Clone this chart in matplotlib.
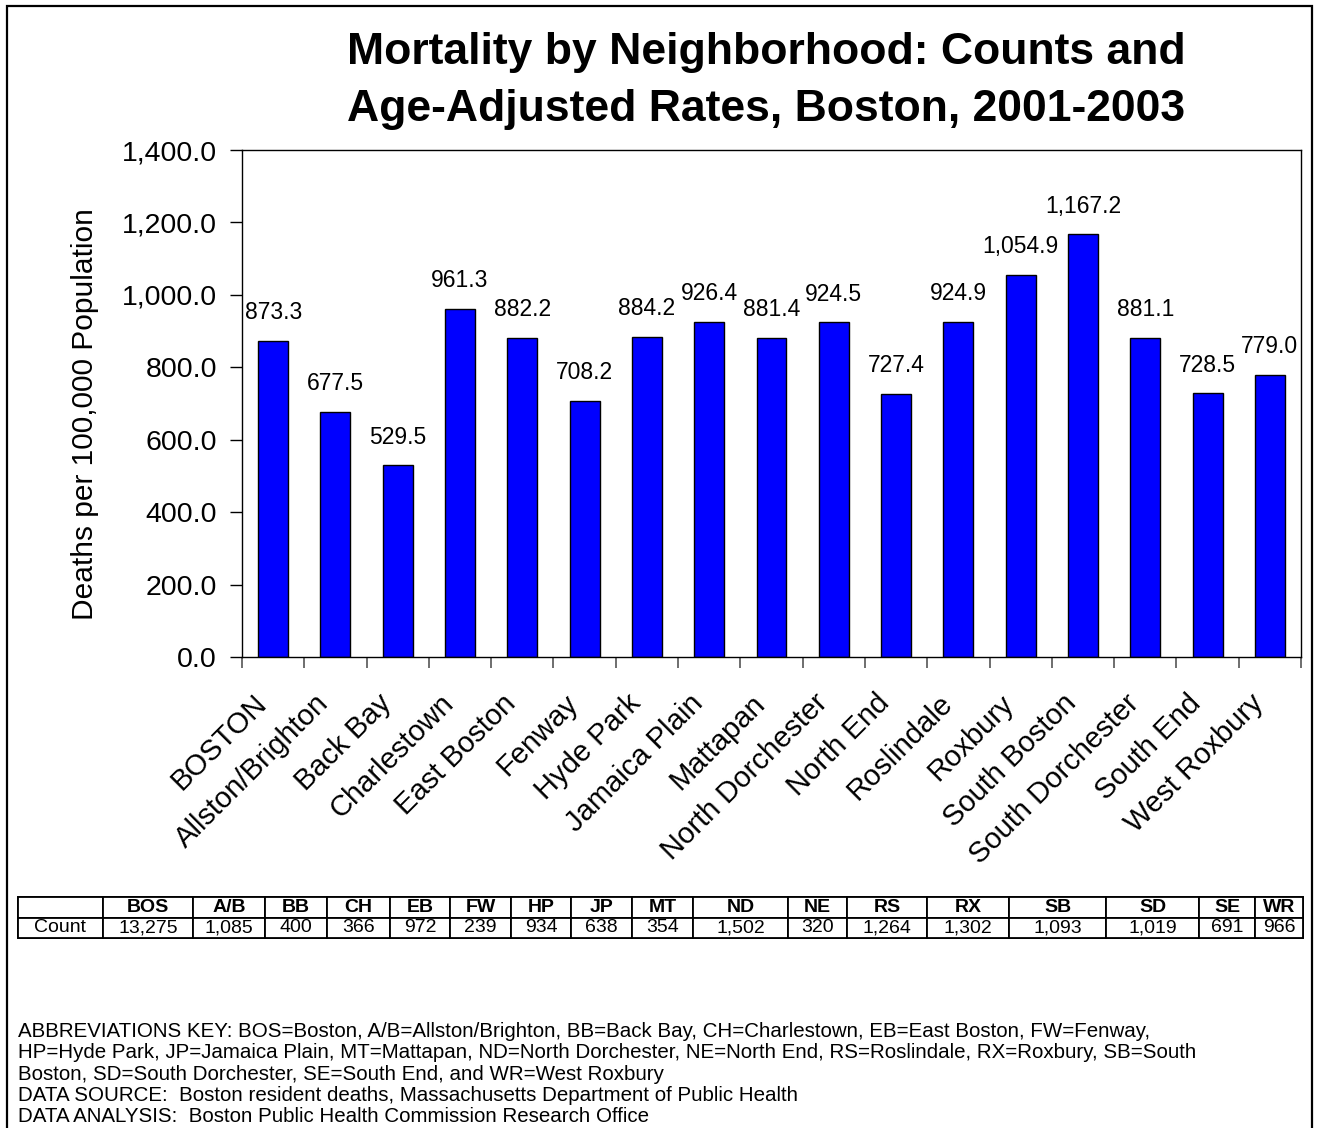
#!/usr/bin/env python
# -*- coding: utf-8 -*-
# Mortality by neighborhood, Boston 2001-2003

import numpy as np
import matplotlib
matplotlib.use("Agg")
import matplotlib.pyplot as plt
from matplotlib.ticker import FuncFormatter
from matplotlib.patches import Rectangle

plt.rcParams['font.family'] = ['Liberation Sans', 'DejaVu Sans']

neighborhoods = ["BOSTON", "Allston/Brighton", "Back Bay", "Charlestown", "East Boston",
                 "Fenway", "Hyde Park", "Jamaica Plain", "Mattapan", "North Dorchester",
                 "North End", "Roslindale", "Roxbury", "South Boston", "South Dorchester",
                 "South End", "West Roxbury"]
rates = [873.3, 677.5, 529.5, 961.3, 882.2, 708.2, 884.2, 926.4, 881.4, 924.5,
         727.4, 924.9, 1054.9, 1167.2, 881.1, 728.5, 779.0]
abbrevs = ["BOS", "A/B", "BB", "CH", "EB", "FW", "HP", "JP", "MT", "ND",
           "NE", "RS", "RX", "SB", "SD", "SE", "WR"]
counts = ["13,275", "1,085", "400", "366", "972", "239", "934", "638", "354", "1,502",
          "320", "1,264", "1,302", "1,093", "1,019", "691", "966"]

footnote = ("ABBREVIATIONS KEY: BOS=Boston, A/B=Allston/Brighton, BB=Back Bay, CH=Charlestown, EB=East Boston, FW=Fenway,\n"
            "HP=Hyde Park, JP=Jamaica Plain, MT=Mattapan, ND=North Dorchester, NE=North End, RS=Roslindale, RX=Roxbury, SB=South\n"
            "Boston, SD=South Dorchester, SE=South End, and WR=West Roxbury\n"
            "DATA SOURCE:  Boston resident deaths, Massachusetts Department of Public Health\n"
            "DATA ANALYSIS:  Boston Public Health Commission Research Office")

W, H = 1319, 1128
fig = plt.figure(figsize=(W / 100, H / 100), dpi=100)
fig.patch.set_facecolor("white")

# outer border (bottom edge runs off the picture)
fig.patches.append(Rectangle((7 / W, -0.01), (1312 - 7) / W, 1.01 - 6 / H, transform=fig.transFigure,
                             fill=False, edgecolor="black", linewidth=1.6))

ax = fig.add_axes([242 / W, 1 - 657 / H, (1301 - 242) / W, (657 - 150) / H])
x = np.arange(len(rates))
ax.bar(x, rates, width=0.48, color="#0000FF", edgecolor="black", linewidth=1.0)

for xi, v in zip(x, rates):
    ax.annotate(f"{v:,.1f}", (xi, v), xytext=(0, 12), textcoords="offset points",
                ha="center", va="bottom", fontsize=16.5)

ax.set_xlim(-0.5, len(rates) - 0.5)
ax.set_ylim(0, 1400)
ax.set_yticks(np.arange(0, 1401, 200))
ax.yaxis.set_major_formatter(FuncFormatter(lambda v, p: f"{v:,.1f}"))
ax.tick_params(axis="y", labelsize=20.5, direction="out", length=9, width=1, pad=9)

# ticks between categories, labels near category centers
ax.set_xticks(np.arange(len(rates) + 1) - 0.5)
ax.set_xticklabels([])
ax.set_xticks(x - 0.33, minor=True)
ax.set_xticklabels(neighborhoods, minor=True, rotation=45, ha="right",
                   rotation_mode="anchor", fontsize=21)
ax.tick_params(axis="x", which="major", direction="out", length=8, width=1.2, color="#555555")
ax.tick_params(axis="x", which="minor", length=0, pad=23)

for s in ax.spines.values():
    s.set_linewidth(1.0)
    s.set_color("black")

ax.set_ylabel("Deaths per 100,000 Population", fontsize=21.5)
ax.yaxis.label.set_va("center")
ax.yaxis.set_label_coords((85 - 242) / 1059, 0.479)

fig.text(766 / W, 1 - 81 / H, "Mortality by Neighborhood: Counts and\nAge-Adjusted Rates, Boston, 2001-2003",
         ha="center", va="center", fontsize=32, fontweight="bold", linespacing=1.48)

# count table
col_px = [85, 90, 72, 62, 63, 60, 61, 60, 61, 61, 95, 59, 80, 82, 97, 93, 56, 48]
col_w = np.array(col_px) / sum(col_px)
tab = plt.table(cellText=[[""] + abbrevs, ["Count"] + counts],
                colWidths=col_w, cellLoc="center",
                bbox=[18 / W, 1 - 938 / H, (1303 - 18) / W, 41 / H],
                transform=fig.transFigure)
tab.auto_set_font_size(False)
for (r, c), cell in tab.get_celld().items():
    cell.set_linewidth(1.3)
    cell.set_text_props(fontsize=14, fontweight="bold" if r == 0 else "normal")
fig.add_artist(tab)

fig.text(18 / W, 1 - 1126 / H, footnote, ha="left", va="bottom",
         fontsize=14.8, linespacing=1.15)

fig.savefig("out.png", dpi=100)
